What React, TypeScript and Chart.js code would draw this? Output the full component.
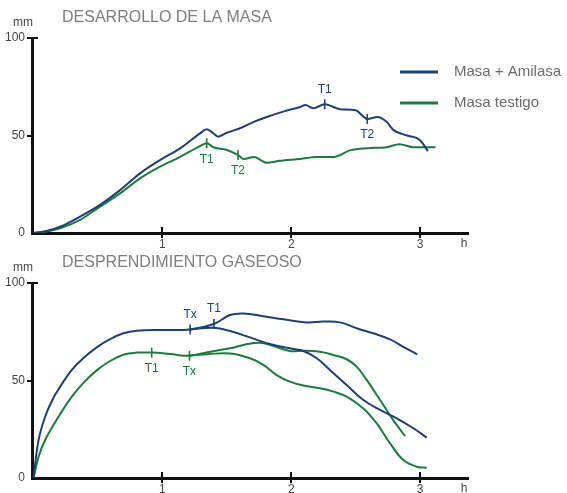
import React, { useEffect, useRef } from "react";
import { Chart, registerables } from "chart.js";

Chart.register(...registerables);

const BLUE = "#1d3f75";
const GREEN = "#1c7a3d";
const FONT = '"Liberation Sans", Arial, Helvetica, sans-serif';

const xTickValues = [1, 2, 3];
const yTickValues = [0, 50, 100];

// ---- Top chart: DESARROLLO DE LA MASA ----
const topTitle = "DESARROLLO DE LA MASA";
const amilasaLabel = "Masa + Amilasa";
const testigoLabel = "Masa testigo";

const amilasaX = [0, 0.1, 0.206, 0.361, 0.516, 0.671, 0.827, 0.982, 1.137, 1.292, 1.344, 1.393, 1.432, 1.5, 1.603, 1.71, 1.81, 1.95, 2.07, 2.11, 2.17, 2.26, 2.38, 2.5, 2.59, 2.67, 2.74, 2.79, 2.9, 2.98, 3.02, 3.06];
const amilasaY = [0, 1, 3.2, 8.4, 14.4, 22, 30.6, 37.4, 43.4, 51.1, 53.2, 51.3, 49.4, 51.4, 53.7, 57, 59.5, 62.5, 64.6, 65.6, 64, 66, 63.5, 63, 58.5, 59.5, 57, 53, 50, 48.5, 46, 42];

const testigoX = [0, 0.1, 0.206, 0.361, 0.516, 0.671, 0.827, 0.982, 1.137, 1.292, 1.344, 1.396, 1.5, 1.587, 1.63, 1.71, 1.81, 1.91, 2.07, 2.2, 2.33, 2.46, 2.59, 2.74, 2.84, 2.95, 3.12];
const testigoY = [0, 0.8, 2.4, 6.7, 13.5, 20.3, 28, 34, 39, 44.6, 46, 44, 42.6, 40, 38, 39, 36, 37, 38, 39, 39, 42.5, 43.5, 44, 45.5, 44, 44];

const amilasaMarkX = [2.26, 2.59];
const amilasaMarkY = [66, 58.5];
const amilasaMarkText = ["T1", "T2"];
const amilasaMarkSide = ["above", "below"];

const testigoMarkX = [1.344, 1.587];
const testigoMarkY = [46, 40];
const testigoMarkText = ["T1", "T2"];
const testigoMarkSide = ["below", "below"];

// ---- Bottom chart: DESPRENDIMIENTO GASEOSO ----
const bottomTitle = "DESPRENDIMIENTO GASEOSO";

const gasBlueUpperX = [0, 0.039, 0.09, 0.142, 0.194, 0.297, 0.387, 0.49, 0.594, 0.697, 0.8, 1.007, 1.215, 1.4, 1.525, 1.628, 1.784, 1.939, 2.12, 2.249, 2.379, 2.508, 2.637, 2.767, 2.87, 2.979];
const gasBlueUpperY = [0, 19.5, 31.4, 39.5, 45.5, 55.4, 61.5, 67, 71.2, 74.2, 75.5, 75.9, 76.2, 79, 83.6, 84.4, 83, 81.4, 79.8, 80.2, 79.8, 76.8, 74.2, 71.1, 67.3, 63.4];

const gasBlueLowerX = [1.215, 1.4, 1.525, 1.68, 1.835, 1.99, 2.094, 2.198, 2.3, 2.43, 2.56, 2.69, 2.819, 2.948, 3.052];
const gasBlueLowerY = [76.2, 77, 75.4, 72.1, 68.7, 66.5, 65.1, 61.4, 55.4, 47.7, 40, 34.9, 30.6, 25.5, 20.7];

const gasGreenUpperX = [0, 0.039, 0.09, 0.194, 0.297, 0.387, 0.49, 0.594, 0.697, 0.8, 0.917, 1.06, 1.21, 1.35, 1.525, 1.628, 1.758, 1.861, 1.99, 2.094, 2.224, 2.327, 2.43, 2.508, 2.586, 2.69, 2.792, 2.883];
const gasGreenUpperY = [0, 10.9, 19.5, 31.4, 41.7, 48.8, 55.2, 60, 63.2, 64.3, 64.3, 63.6, 62.7, 64.5, 66.5, 68.2, 69.4, 67.7, 65.1, 65.3, 64.8, 63.1, 60.9, 57.1, 50.3, 40, 29.7, 21.5];

const gasGreenLowerX = [1.21, 1.35, 1.525, 1.68, 1.784, 1.887, 1.99, 2.094, 2.224, 2.327, 2.43, 2.56, 2.664, 2.767, 2.87, 2.974, 3.052];
const gasGreenLowerY = [62.7, 63.5, 63.9, 61.4, 58, 52.8, 49.4, 47.4, 46, 44.3, 41.7, 35.7, 28, 17.8, 9.2, 5.8, 5.3];

const gasBlueMarkX = [1.215, 1.4];
const gasBlueMarkY = [76.2, 79];
const gasBlueMarkText = ["Tx", "T1"];
const gasBlueMarkSide = ["above", "above"];

const gasGreenMarkX = [0.917, 1.21];
const gasGreenMarkY = [64.3, 62.7];
const gasGreenMarkText = ["T1", "Tx"];
const gasGreenMarkSide = ["below", "below"];

function pts(xs: number[], ys: number[]) {
  return xs.map((x, i) => ({ x, y: ys[i] }));
}

function lineDs(xs: number[], ys: number[], color: string, mode: string, legend?: string) {
  return {
    type: "line",
    label: legend || "",
    legendEntry: !!legend,
    data: pts(xs, ys),
    borderColor: color,
    backgroundColor: color,
    borderWidth: 2,
    pointRadius: 0,
    fill: false,
    cubicInterpolationMode: mode,
    tension: 0.4,
  };
}

function markDs(xs: number[], ys: number[], color: string, texts: string[], sides: string[]) {
  return {
    type: "scatter",
    label: "",
    isMarker: true,
    markTexts: texts,
    markSides: sides,
    data: pts(xs, ys),
    borderColor: color,
    backgroundColor: color,
    pointStyle: "line",
    rotation: 90,
    radius: 5,
    borderWidth: 1.6,
    showLine: false,
  };
}

const decoPlugin = {
  id: "deco",
  afterDraw(chart: any, _args: any, opts: any) {
    const { ctx, chartArea, scales } = chart;
    const xs = scales.x;
    const ys = scales.y;
    ctx.save();
    // inner halves of the axis ticks
    ctx.strokeStyle = "#111";
    ctx.lineWidth = 2;
    for (const v of xTickValues) {
      const px = Math.round(xs.getPixelForValue(v));
      ctx.beginPath();
      ctx.moveTo(px, chartArea.bottom);
      ctx.lineTo(px, chartArea.bottom - 6);
      ctx.stroke();
    }
    const topPx = ys.getPixelForValue(100);
    ctx.beginPath();
    ctx.moveTo(chartArea.left, topPx);
    ctx.lineTo(chartArea.left + 6, topPx);
    ctx.stroke();

    // titles
    ctx.textBaseline = "alphabetic";
    ctx.textAlign = "left";
    ctx.fillStyle = "#7d7d7d";
    ctx.font = `16px ${FONT}`;
    ctx.fillText(opts.title, 62, opts.titleY);

    ctx.fillStyle = "#444";
    ctx.font = `12px ${FONT}`;
    ctx.fillText("mm", 13, chartArea.top - 12);
    ctx.textAlign = "center";
    ctx.fillText("h", 464, chartArea.bottom + 14);

    // marker labels
    chart.data.datasets.forEach((ds: any, i: number) => {
      if (!ds.isMarker) return;
      const meta = chart.getDatasetMeta(i);
      ctx.fillStyle = ds.borderColor;
      ctx.font = `12px ${FONT}`;
      ctx.textAlign = "center";
      ctx.textBaseline = "middle";
      meta.data.forEach((el: any, j: number) => {
        const dy = ds.markSides[j] === "above" ? -15 : 16;
        ctx.fillText(ds.markTexts[j], el.x, el.y + dy);
      });
    });

    // legend
    if (opts.legend) {
      let ly = opts.legend.y;
      chart.data.datasets.forEach((ds: any) => {
        if (!ds.legendEntry) return;
        ctx.strokeStyle = ds.borderColor;
        ctx.lineWidth = 3;
        ctx.beginPath();
        ctx.moveTo(opts.legend.x, ly);
        ctx.lineTo(opts.legend.x + 38, ly);
        ctx.stroke();
        ctx.fillStyle = "#6a6a6a";
        ctx.font = `15px ${FONT}`;
        ctx.textAlign = "left";
        ctx.textBaseline = "middle";
        ctx.fillText(ds.label, opts.legend.x + 54, ly);
        ly += opts.legend.gap;
      });
    }
    ctx.restore();
  },
};

function makeConfig(datasets: any[], padTop: number, xHeight: number, deco: any) {
  return {
    type: "line",
    data: { datasets },
    plugins: [decoPlugin],
    options: {
      animation: false,
      responsive: false,
      devicePixelRatio: 1,
      layout: { padding: { top: padTop, right: 99, left: 0, bottom: 0 } },
      plugins: {
        legend: { display: false },
        tooltip: { enabled: false },
        deco,
      },
      scales: {
        x: {
          type: "linear",
          min: -0.012,
          max: 3.372,
          afterFit: (s: any) => {
            s.height = xHeight;
          },
          afterBuildTicks: (s: any) => {
            s.ticks = xTickValues.map((v) => ({ value: v }));
          },
          grid: { drawOnChartArea: false, tickLength: 5, color: "#111", lineWidth: 2 },
          border: { display: true, color: "#111", width: 3 },
          ticks: { color: "#444", font: { family: FONT, size: 12 }, padding: -1, maxRotation: 0 },
        },
        y: {
          type: "linear",
          min: 0,
          max: 100,
          afterFit: (s: any) => {
            s.width = 32;
          },
          afterBuildTicks: (s: any) => {
            s.ticks = yTickValues.map((v) => ({ value: v }));
          },
          grid: {
            drawOnChartArea: false,
            tickLength: 5,
            lineWidth: 2,
            color: (c: any) => (c.tick && c.tick.value === 0 ? "rgba(0,0,0,0)" : "#111"),
          },
          border: { display: true, color: "#111", width: 3 },
          ticks: { color: "#444", font: { family: FONT, size: 12 }, padding: 2 },
        },
      },
    },
  };
}

export default function App() {
  const topRef = useRef<HTMLCanvasElement>(null);
  const botRef = useRef<HTMLCanvasElement>(null);

  useEffect(() => {
    const topDatasets = [
      lineDs(amilasaX, amilasaY, BLUE, "monotone", amilasaLabel),
      lineDs(testigoX, testigoY, GREEN, "monotone", testigoLabel),
      markDs(amilasaMarkX, amilasaMarkY, BLUE, amilasaMarkText, amilasaMarkSide),
      markDs(testigoMarkX, testigoMarkY, GREEN, testigoMarkText, testigoMarkSide),
    ];
    const botDatasets = [
      lineDs(gasBlueUpperX, gasBlueUpperY, BLUE, "default"),
      lineDs(gasBlueLowerX, gasBlueLowerY, BLUE, "default"),
      lineDs(gasGreenUpperX, gasGreenUpperY, GREEN, "default"),
      lineDs(gasGreenLowerX, gasGreenLowerY, GREEN, "default"),
      markDs(gasBlueMarkX, gasBlueMarkY, BLUE, gasBlueMarkText, gasBlueMarkSide),
      markDs(gasGreenMarkX, gasGreenMarkY, GREEN, gasGreenMarkText, gasGreenMarkSide),
    ];
    const c1 = new Chart(
      topRef.current as HTMLCanvasElement,
      makeConfig(topDatasets, 38, 17, { title: topTitle, titleY: 21.5, legend: { x: 400, y: 72, gap: 31 } }) as any
    );
    const c2 = new Chart(
      botRef.current as HTMLCanvasElement,
      makeConfig(botDatasets, 33, 15, { title: bottomTitle, titleY: 17.3 }) as any
    );
    return () => {
      c1.destroy();
      c2.destroy();
    };
  }, []);

  return (
    <div style={{ position: "fixed", left: 0, top: 0, width: 567, height: 493, background: "#fff" }}>
      <canvas ref={topRef} width={567} height={250} style={{ position: "absolute", left: 0, top: 0, display: "block" }} />
      <canvas ref={botRef} width={567} height={243} style={{ position: "absolute", left: 0, top: 250, display: "block" }} />
    </div>
  );
}
